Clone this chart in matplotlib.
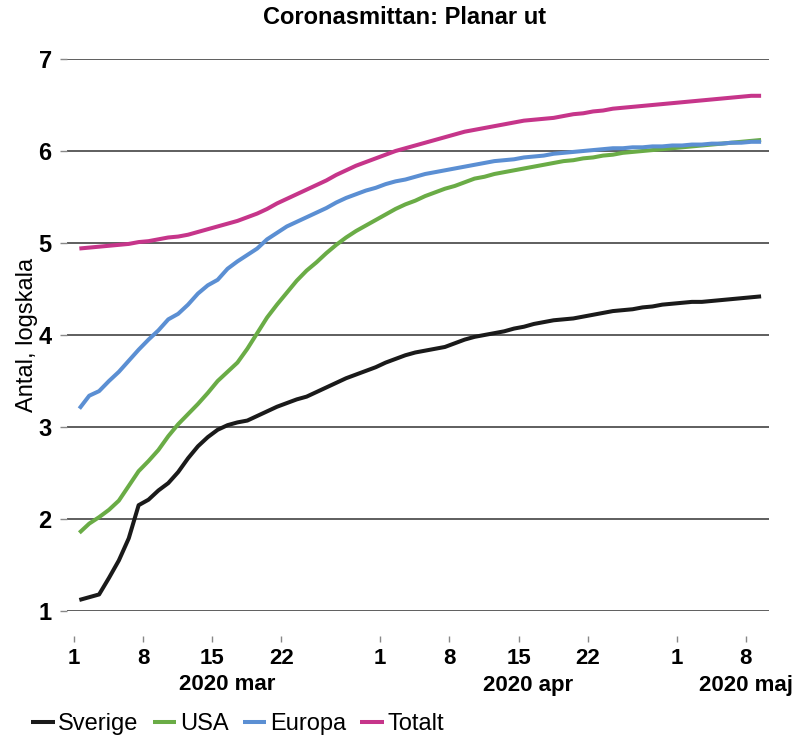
import numpy as np
import matplotlib
matplotlib.use("Agg")
import matplotlib.pyplot as plt
import matplotlib.transforms as mtransforms

plt.rcParams['font.family'] = ['Liberation Sans', 'DejaVu Sans']

# dagliga värden, 1 mars - 9 maj 2020 (log10 av antal fall)
sverige = [1.12, 1.15, 1.18, 1.36, 1.55, 1.79, 2.15, 2.21, 2.31, 2.39, 2.51, 2.66, 2.79, 2.89, 2.97,
           3.02, 3.05, 3.07, 3.12, 3.17, 3.22, 3.26, 3.30, 3.33, 3.38, 3.43, 3.48, 3.53, 3.57, 3.61,
           3.65, 3.70, 3.74, 3.78, 3.81, 3.83, 3.85, 3.87, 3.91, 3.95, 3.98, 4.00, 4.02, 4.04, 4.07,
           4.09, 4.12, 4.14, 4.16, 4.17, 4.18, 4.20, 4.22, 4.24, 4.26, 4.27, 4.28, 4.30, 4.31, 4.33,
           4.34, 4.35, 4.36, 4.36, 4.37, 4.38, 4.39, 4.40, 4.41, 4.42]
usa = [1.85, 1.95, 2.02, 2.10, 2.20, 2.36, 2.52, 2.63, 2.75, 2.90, 3.03, 3.14, 3.25, 3.37, 3.50,
       3.60, 3.70, 3.85, 4.02, 4.19, 4.33, 4.46, 4.59, 4.70, 4.79, 4.89, 4.98, 5.06, 5.13, 5.19,
       5.25, 5.31, 5.37, 5.42, 5.46, 5.51, 5.55, 5.59, 5.62, 5.66, 5.70, 5.72, 5.75, 5.77, 5.79,
       5.81, 5.83, 5.85, 5.87, 5.89, 5.90, 5.92, 5.93, 5.95, 5.96, 5.98, 5.99, 6.00, 6.01, 6.02,
       6.03, 6.04, 6.05, 6.06, 6.07, 6.08, 6.09, 6.10, 6.11, 6.12]
europa = [3.20, 3.34, 3.39, 3.50, 3.60, 3.72, 3.84, 3.95, 4.05, 4.17, 4.23, 4.33, 4.45, 4.54, 4.60,
          4.72, 4.80, 4.87, 4.94, 5.04, 5.11, 5.18, 5.23, 5.28, 5.33, 5.38, 5.44, 5.49, 5.53, 5.57,
          5.60, 5.64, 5.67, 5.69, 5.72, 5.75, 5.77, 5.79, 5.81, 5.83, 5.85, 5.87, 5.89, 5.90, 5.91,
          5.93, 5.94, 5.95, 5.97, 5.98, 5.99, 6.00, 6.01, 6.02, 6.03, 6.03, 6.04, 6.04, 6.05, 6.05,
          6.06, 6.06, 6.07, 6.07, 6.08, 6.08, 6.09, 6.09, 6.10, 6.10]
totalt = [4.94, 4.95, 4.96, 4.97, 4.98, 4.99, 5.01, 5.02, 5.04, 5.06, 5.07, 5.09, 5.12, 5.15, 5.18,
          5.21, 5.24, 5.28, 5.32, 5.37, 5.43, 5.48, 5.53, 5.58, 5.63, 5.68, 5.74, 5.79, 5.84, 5.88,
          5.92, 5.96, 6.00, 6.03, 6.06, 6.09, 6.12, 6.15, 6.18, 6.21, 6.23, 6.25, 6.27, 6.29, 6.31,
          6.33, 6.34, 6.35, 6.36, 6.38, 6.40, 6.41, 6.43, 6.44, 6.46, 6.47, 6.48, 6.49, 6.50, 6.51,
          6.52, 6.53, 6.54, 6.55, 6.56, 6.57, 6.58, 6.59, 6.60, 6.60]

serier = ['Sverige', 'USA', 'Europa', 'Totalt']
farger = ['#1a1a1a', '#6aac46', '#5b8fd3', '#c6358a']

tick_dagar = [0, 7, 14, 21, 31, 38, 45, 52, 61, 68]
tick_etiketter = ['1', '8', '15', '22', '1', '8', '15', '22', '1', '8']
manader = ['2020 mar', '2020 apr', '2020 maj']
manad_pos = [15.5, 46.0, 68.0]

dagar = np.arange(len(sverige)) + 0.55

fig = plt.figure(figsize=(8.09, 7.40), dpi=100)
ax = fig.add_axes([67 / 809, 1 - 611 / 740, (769 - 67) / 809, (611 - 59) / 740])

for namn, data, farg in zip(serier, [sverige, usa, europa, totalt], farger):
    ax.plot(dagar, data, color=farg, lw=2.9, label=namn, solid_capstyle='butt')

ax.set_xlim(-0.7, 70.35)
ax.set_ylim(1, 7)
ax.set_yticks(range(1, 8))
ax.grid(axis='y', color='#333333', lw=1.1)
ax.set_axisbelow(True)
for s in ['top', 'right', 'left', 'bottom']:
    ax.spines[s].set_visible(False)
ax.spines['bottom'].set_position(('outward', 18))

ax.tick_params(axis='y', length=5, width=1, color='#888888', pad=6, labelsize=17)
for lab in ax.get_yticklabels():
    lab.set_fontweight('bold')

ax.set_xticks(tick_dagar)
ax.set_xticklabels(tick_etiketter, fontsize=16, fontweight='bold')
ax.tick_params(axis='x', length=4, width=1, color='#888888', pad=5)

trans = mtransforms.blended_transform_factory(ax.transData, fig.transFigure)
for m, p in zip(manader, manad_pos):
    ax.text(p, 1 - 685 / 740, m, transform=trans, ha='center', va='center',
            fontsize=16, fontweight='bold')

ax.set_ylabel('Antal, logskala', fontsize=17)
ax.yaxis.set_label_coords(-0.042, 0.5)
fig.text(0.5, 1 - 18 / 740, 'Coronasmittan: Planar ut', ha='center', va='center',
         fontsize=17, fontweight='bold')

fig.legend(loc='center left', bbox_to_anchor=(0.012, 1 - 724 / 740), ncol=4, frameon=False,
           fontsize=17, handlelength=1.0, handletextpad=0.15, columnspacing=0.6)

fig.savefig('out.png', dpi=100)
